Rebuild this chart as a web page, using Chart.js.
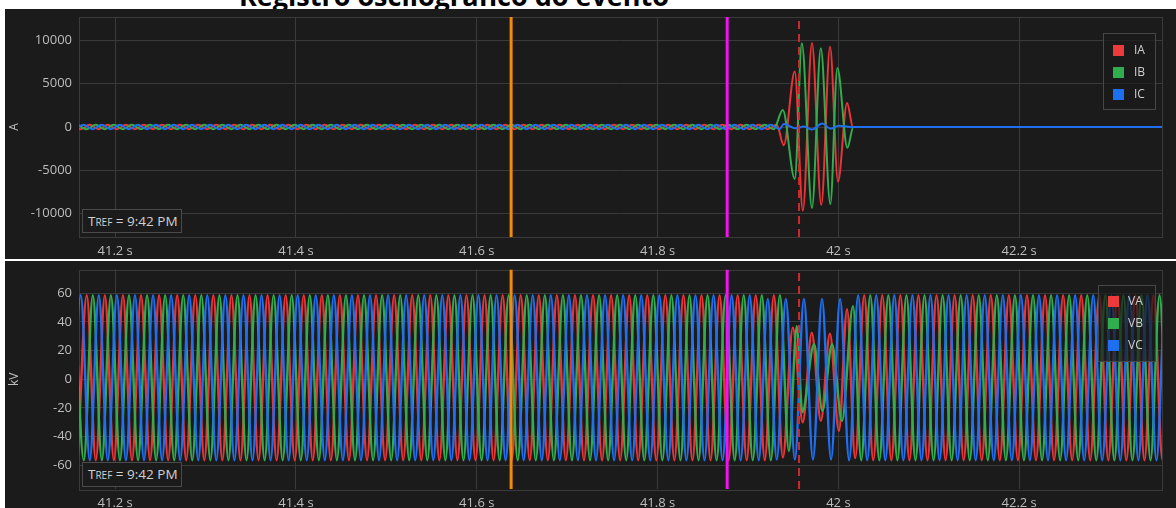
<!DOCTYPE html>
<html>
<head>
<meta charset="utf-8">
<script src="https://cdn.jsdelivr.net/npm/chart.js@4.4.0/dist/chart.umd.min.js"></script>
<style>
  body { margin: 0; width: 1176px; height: 508px; overflow: hidden; position: relative; background: #fff; font-family: 'Open Sans', sans-serif; }
  #title { position: absolute; left: 0; width: 908px; top: -18px; line-height: 27px; text-align: center; font-weight: bold; font-size: 27px; color: #000; }
  .panel { position: absolute; left: 5px; width: 1171px; background: #1b1b1b; }
  #p1 { top: 9px; height: 250px; }
  #p2 { top: 261px; height: 247px; }
  .legend { position: absolute; border: 1px solid #474747; background: rgba(27,27,27,0.72); box-sizing: border-box; }
  .sw { position: absolute; width: 11px; height: 11px; }
  .lbl { position: absolute; font-size: 12px; line-height: 14px; color: #cfcfcf; }
  .tref { position: absolute; border: 1px solid #4a4a4a; background: #1b1b1b; color: #d0d0d0; font-size: 13.5px; box-sizing: border-box; padding-left: 5px; }
  .tref small { font-size: 10px; }
</style>
</head>
<body>
<div id="title">Registro oscilográfico do evento</div>
<div class="panel" id="p1"><canvas id="c1" width="1171" height="250"></canvas></div>
<div class="panel" id="p2"><canvas id="c2" width="1171" height="247"></canvas></div>

<div class="legend" style="left:1103px;top:33px;width:53px;height:77px"></div>
<div class="sw" style="left:1113px;top:45px;background:#ee3a3a"></div><div class="lbl" style="left:1134px;top:43px">IA</div>
<div class="sw" style="left:1113px;top:67px;background:#30ad4f"></div><div class="lbl" style="left:1134px;top:65px">IB</div>
<div class="sw" style="left:1113px;top:89px;background:#1e6ff0"></div><div class="lbl" style="left:1134px;top:87px">IC</div>

<div class="legend" style="left:1098px;top:285px;width:58px;height:77px"></div>
<div class="sw" style="left:1108px;top:296px;background:#ee3a3a"></div><div class="lbl" style="left:1128px;top:294px">VA</div>
<div class="sw" style="left:1108px;top:318px;background:#30ad4f"></div><div class="lbl" style="left:1128px;top:316px">VB</div>
<div class="sw" style="left:1108px;top:340px;background:#1e6ff0"></div><div class="lbl" style="left:1128px;top:338px">VC</div>

<div class="tref" style="left:82px;top:209px;width:100px;height:24px;line-height:22px">T<small>REF</small> = 9:42 PM</div>
<div class="tref" style="left:82px;top:462px;width:100px;height:25px;line-height:23px">T<small>REF</small> = 9:42 PM</div>

<script>
// time axis (s)
const X_MIN = 41.16;
const X_MAX = 42.358;
const X_TICKS = [41.2, 41.4, 41.6, 41.8, 42.0, 42.2];
const HALF_CYCLE = 0.01;   // 50 Hz, one extreme every half cycle

const I_TICKS = [-10000, -5000, 0, 5000, 10000];
const V_TICKS = [-60, -40, -20, 0, 20, 40, 60];

// cursors: orange, magenta, trip (dashed)
const CURSOR_TIMES = [41.638, 41.877, 41.9565];

// ---- voltages (kV), peaks/troughs ----
const VA_PRE_START = 41.1586;
const VA_PRE = [
  -56.5, 58.5, -56.5, 58.5, -56.5, 58.5, -56.5, 58.5, -56.5, 58.5, -56.5, 58.5, -56.5, 58.5, -56.5, 58.5, -56.5, 58.5, -56.5, 58.5,
  -56.5, 58.5, -56.5, 58.5, -56.5, 58.5, -56.5, 58.5, -56.5, 58.5, -56.5, 58.5, -56.5, 58.5, -56.5, 58.5, -56.5, 58.5, -56.5, 58.5,
  -56.5, 58.5, -56.5, 58.5, -56.5, 58.5, -56.5, 58.5, -56.5, 58.5, -56.5, 58.5, -56.5, 58.5, -56.5, 58.5, -56.5, 58.5, -56.5, 58.5,
  -56.5, 58.5, -56.5, 58.5, -56.5, 58.5, -56.5, 58.5, -56.5, 58.5, -56.5, 58.5, -56.5, 58.5, -56.5, 58.5, -56.5, 58.5
];
const VA_FAULT_T = [41.9386, 41.9496, 41.9606, 41.9706, 41.9806, 41.9906, 42.0006, 42.0096, 42.0186];
const VA_FAULT_V = [-54.5, 36, -30, 32.5, -29, 31.8, -36, 48.8, -55];
const VA_POST_START = 42.0286;
const VA_POST = [
  58.5, -56.5, 58.5, -56.5, 58.5, -56.5, 58.5, -56.5, 58.5, -56.5, 58.5, -56.5, 58.5, -56.5, 58.5, -56.5, 58.5, -56.5,
  58.5, -56.5, 58.5, -56.5, 58.5, -56.5, 58.5, -56.5, 58.5, -56.5, 58.5, -56.5, 58.5, -56.5, 58.5, -56.5, 58.5
];

const VB_PRE_START = 41.1553;
const VB_PRE = [
  58.5, -56.5, 58.5, -56.5, 58.5, -56.5, 58.5, -56.5, 58.5, -56.5, 58.5, -56.5, 58.5, -56.5, 58.5, -56.5, 58.5, -56.5, 58.5, -56.5,
  58.5, -56.5, 58.5, -56.5, 58.5, -56.5, 58.5, -56.5, 58.5, -56.5, 58.5, -56.5, 58.5, -56.5, 58.5, -56.5, 58.5, -56.5, 58.5, -56.5,
  58.5, -56.5, 58.5, -56.5, 58.5, -56.5, 58.5, -56.5, 58.5, -56.5, 58.5, -56.5, 58.5, -56.5, 58.5, -56.5, 58.5, -56.5, 58.5, -56.5,
  58.5, -56.5, 58.5, -56.5, 58.5, -56.5, 58.5, -56.5, 58.5, -56.5, 58.5, -56.5, 58.5, -56.5, 58.5, -56.5, 58.5, -56.5, 58.5
];
const VB_FAULT_T = [41.9453, 41.9540, 41.9601, 41.9731, 41.9823, 41.9930, 42.0040, 42.0162];
const VB_FAULT_V = [-50, 37, -23, 24.4, -22, 24.4, -29, 51];
const VB_POST_START = 42.0253;
const VB_POST = [
  -56.5, 58.5, -56.5, 58.5, -56.5, 58.5, -56.5, 58.5, -56.5, 58.5, -56.5, 58.5, -56.5, 58.5, -56.5, 58.5, -56.5, 58.5,
  -56.5, 58.5, -56.5, 58.5, -56.5, 58.5, -56.5, 58.5, -56.5, 58.5, -56.5, 58.5, -56.5, 58.5, -56.5, 58.5, -56.5, 58.5
];

const VC_START = 41.1519;
const VC = [
  -56.5, 58.5, -56.5, 58.5, -56.5, 58.5, -56.5, 58.5, -56.5, 58.5, -56.5, 58.5, -56.5, 58.5, -56.5, 58.5, -56.5, 58.5, -56.5, 58.5,
  -56.5, 58.5, -56.5, 58.5, -56.5, 58.5, -56.5, 58.5, -56.5, 58.5, -56.5, 58.5, -56.5, 58.5, -56.5, 58.5, -56.5, 58.5, -56.5, 58.5,
  -56.5, 58.5, -56.5, 58.5, -56.5, 58.5, -56.5, 58.5, -56.5, 58.5, -56.5, 58.5, -56.5, 58.5, -56.5, 58.5, -56.5, 58.5, -56.5, 58.5,
  -56.5, 58.5, -56.5, 58.5, -56.5, 58.5, -56.5, 58.5, -56.5, 58.5, -56.5, 58.5, -56.5, 58.5, -56.5, 58.5, -56.5, 56, -56, 56,
  -56, 56, -56, 56, -56, 56, -56.5, 58.5, -56.5, 58.5, -56.5, 58.5, -56.5, 58.5, -56.5, 58.5, -56.5, 58.5, -56.5, 58.5,
  -56.5, 58.5, -56.5, 58.5, -56.5, 58.5, -56.5, 58.5, -56.5, 58.5, -56.5, 58.5, -56.5, 58.5, -56.5, 58.5, -56.5, 58.5, -56.5, 58.5,
  -56.5, 58.5, -56.5
];

// ---- currents (A), upper panel ----
const IA_PRE_START = 41.1518;
const IA_PRE = [
  250, -250, 250, -250, 250, -250, 250, -250, 250, -250, 250, -250, 250, -250, 250, -250, 250, -250, 250, -250,
  250, -250, 250, -250, 250, -250, 250, -250, 250, -250, 250, -250, 250, -250, 250, -250, 250, -250, 250, -250,
  250, -250, 250, -250, 250, -250, 250, -250, 250, -250, 250, -250, 250, -250, 250, -250, 250, -250, 250, -250,
  250, -250, 250, -250, 250, -250, 250, -250, 250, -250, 250, -250, 250, -250, 250, -250, 250, -250, 250
];
const IA_EVENT_T = [41.9396, 41.9518, 41.9607, 41.9708, 41.9811, 41.9908, 41.9996, 42.0096, 42.0162, 42.40];
const IA_EVENT_V = [-2100, 6400, -9660, 9700, -9000, 9270, -6300, 2770, 0, 0];

const IB_PRE_START = 41.1585;
const IB_PRE = [
  250, -250, 250, -250, 250, -250, 250, -250, 250, -250, 250, -250, 250, -250, 250, -250, 250, -250, 250, -250,
  250, -250, 250, -250, 250, -250, 250, -250, 250, -250, 250, -250, 250, -250, 250, -250, 250, -250, 250, -250,
  250, -250, 250, -250, 250, -250, 250, -250, 250, -250, 250, -250, 250, -250, 250, -250, 250, -250, 250, -250,
  250, -250, 250, -250, 250, -250, 250, -250, 250, -250, 250, -250, 250, -250, 250, -250, 250, -250
];
const IB_EVENT_T = [41.9385, 41.9518, 41.9596, 41.9708, 41.9806, 41.9911, 41.9989, 42.0100, 42.0166, 42.40];
const IB_EVENT_V = [1960, -6000, 9670, -9350, 9100, -8900, 6800, -2400, 0, 0];

const IC_PRE_START = 41.1551;
const IC_PRE = [
  -250, 250, -250, 250, -250, 250, -250, 250, -250, 250, -250, 250, -250, 250, -250, 250, -250, 250, -250, 250,
  -250, 250, -250, 250, -250, 250, -250, 250, -250, 250, -250, 250, -250, 250, -250, 250, -250, 250, -250, 250,
  -250, 250, -250, 250, -250, 250, -250, 250, -250, 250, -250, 250, -250, 250, -250, 250, -250, 250, -250, 250,
  -250, 250, -250, 250, -250, 250, -250, 250, -250, 250, -250, 250, -250, 250, -250, 250, -250, 250, -250
];
const IC_EVENT_T = [41.9396, 41.9525, 41.9618, 41.9710, 41.9821, 41.9913, 42.0006, 42.0135, 42.40];
const IC_EVENT_V = [350, -150, 50, -300, 400, -200, 150, 0, 0];

// ---- styling ----
const RED = '#ea3437', GREEN = '#32ad4e', BLUE = '#1f6ff0';
const GRID = '#3a3a3a';
const TICK = '#bdbdbd';
const CURSOR_STYLE = [
  { color: '#f28a0a', width: 3, dash: [] },
  { color: '#f312f0', width: 3, dash: [] },
  { color: '#cc2a2c', width: 2, dash: [8, 5] }
];

Chart.defaults.font.family = "'Open Sans', sans-serif";

function regular(start, values) {
  return values.map((v, i) => ({ x: start + i * HALF_CYCLE, y: v }));
}
function explicit(times, values) {
  return times.map((t, i) => ({ x: t, y: values[i] }));
}

function wave(label, color, data, order, width) {
  return {
    label, data, order,
    borderColor: color, borderWidth: width, pointRadius: 0,
    cubicInterpolationMode: 'monotone', fill: false
  };
}

function cursors(yMin, yMax) {
  return CURSOR_TIMES.map((t, i) => ({
    label: 'cursor' + i,
    data: [{ x: t, y: yMin }, { x: t, y: yMax }],
    borderColor: CURSOR_STYLE[i].color,
    borderWidth: CURSOR_STYLE[i].width,
    borderDash: CURSOR_STYLE[i].dash,
    pointRadius: 0, order: 0
  }));
}

const frame = {
  id: 'frame',
  beforeDatasetsDraw(chart) {
    const a = chart.chartArea, ctx = chart.ctx;
    ctx.save();
    ctx.strokeStyle = GRID;
    ctx.lineWidth = 1;
    ctx.strokeRect(Math.round(a.left) + 0.5, Math.round(a.top) + 0.5, Math.round(a.right - a.left), Math.round(a.bottom - a.top));
    ctx.restore();
  }
};

function makeChart(id, datasets, yMin, yMax, yTicks, yTitle, xHeight, topPad) {
  return new Chart(document.getElementById(id), {
    type: 'line',
    data: { datasets },
    options: {
      responsive: false, animation: false, events: [],
      layout: { padding: { top: topPad, right: 14, left: 0, bottom: 0 } },
      plugins: { legend: { display: false }, tooltip: { enabled: false } },
      scales: {
        x: {
          type: 'linear', min: X_MIN, max: X_MAX,
          grid: { color: GRID, drawTicks: false },
          border: { display: false },
          ticks: {
            maxRotation: 0, padding: 6, autoSkip: false,
            color: TICK, font: { size: 13 },
            callback: v => parseFloat(v.toFixed(1)) + ' s'
          },
          afterBuildTicks: s => { s.ticks = X_TICKS.map(v => ({ value: v })); },
          afterFit: s => { s.height = xHeight; s.paddingLeft = 0; s.paddingRight = 0; }
        },
        y: {
          min: yMin, max: yMax,
          grid: { color: GRID, drawTicks: false },
          border: { display: false },
          title: { display: true, text: yTitle, color: TICK, font: { size: 12 }, padding: { top: 2, bottom: 0 } },
          ticks: { padding: 7, autoSkip: false, color: TICK, font: { size: 13 }, callback: v => String(v) },
          afterBuildTicks: s => { s.ticks = yTicks.map(v => ({ value: v })); },
          afterFit: s => { s.width = 74; s.paddingTop = 0; s.paddingBottom = 0; }
        }
      }
    },
    plugins: [frame]
  });
}

const I_MIN = -12700, I_MAX = 12700;
makeChart('c1', [
  ...cursors(I_MIN, I_MAX),
  wave('IC', BLUE, regular(IC_PRE_START, IC_PRE).concat(explicit(IC_EVENT_T, IC_EVENT_V)), 1, 2),
  wave('IB', GREEN, regular(IB_PRE_START, IB_PRE).concat(explicit(IB_EVENT_T, IB_EVENT_V)), 2, 2),
  wave('IA', RED, regular(IA_PRE_START, IA_PRE).concat(explicit(IA_EVENT_T, IA_EVENT_V)), 3, 2)
], I_MIN, I_MAX, I_TICKS, 'A', 22, 8);

const V_MIN = -76.5, V_MAX = 76.5;
makeChart('c2', [
  ...cursors(V_MIN, V_MAX),
  wave('VC', BLUE, regular(VC_START, VC), 1, 2.4),
  wave('VB', GREEN, regular(VB_PRE_START, VB_PRE).concat(explicit(VB_FAULT_T, VB_FAULT_V), regular(VB_POST_START, VB_POST)), 2, 2.4),
  wave('VA', RED, regular(VA_PRE_START, VA_PRE).concat(explicit(VA_FAULT_T, VA_FAULT_V), regular(VA_POST_START, VA_POST)), 3, 2.4)
], V_MIN, V_MAX, V_TICKS, 'kV', 19, 8.5);
</script>
</body>
</html>
